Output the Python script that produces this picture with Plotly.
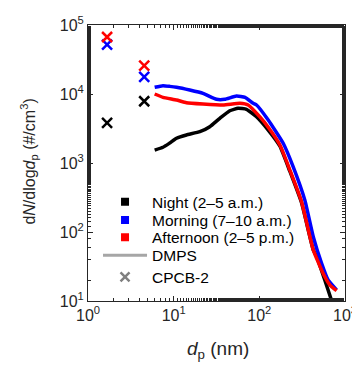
import plotly.graph_objects as go

# DMPS size distributions (dp in nm, dN/dlogdp in #/cm3)
night_dp = [6.0, 7.5, 9.0, 10.8, 14.1, 20.2, 26.4, 34.6, 45.2, 56.5, 70.8, 92.7, 127, 174, 227, 311, 426, 470, 582, 700]
night_n = [1540, 1690, 1950, 2280, 2550, 2840, 3360, 4450, 5730, 6210, 6000, 4690, 3000, 1750, 760, 265, 55, 43, 20, 10]

morning_dp = [6.0, 7.5, 9.0, 10.8, 15.4, 22.0, 31.6, 39.5, 54.0, 68.1, 84.7, 92.7, 127, 190, 248, 340, 426, 533, 637, 798]
morning_n = [12500, 13200, 12900, 12500, 11400, 10200, 8380, 8380, 9360, 8950, 7330, 6930, 4200, 1930, 884, 288, 85.5, 35.2, 20, 14.5]

afternoon_dp = [6.0, 7.5, 10.8, 14.1, 22.0, 37.8, 59.3, 74, 101, 127, 174, 227, 311, 426, 556, 667, 798]
afternoon_n = [10000, 8950, 8190, 7480, 7160, 6930, 7330, 6930, 4690, 3300, 1820, 794, 275, 55, 25, 17, 14.1]

# CPCB-2 points
cpc_dp = [1.67, 4.53]
cpc_night = [3800, 7850]
cpc_morning = [52000, 17700]
cpc_afternoon = [67000, 25700]

series_names = ["Night (2–5 a.m.)", "Morning (7–10 a.m.)", "Afternoon (2–5 p.m.)"]
series_colors = ["#000000", "#0000FF", "#FF0000"]

x_tickvals = [1, 10, 100, 1000]
x_ticktext = ["10<sup>0</sup>", "10<sup>1</sup>", "10<sup>2</sup>", "10<sup>3</sup>"]
y_tickvals = [10, 100, 1000, 10000, 100000]
y_ticktext = ["10<sup>1</sup>", "10<sup>2</sup>", "10<sup>3</sup>", "10<sup>4</sup>", "10<sup>5</sup>"]

x_title = "<i>d</i><sub>p</sub> (nm)"
y_title = "d<i>N</i>/dlog<i>d</i><sub>p</sub> (#/cm<sup>3</sup>)"

FONT = "Arial, Liberation Sans, sans-serif"
AX = "#262626"

fig = go.Figure()

dmps = [(night_dp, night_n), (morning_dp, morning_n), (afternoon_dp, afternoon_n)]
for (dp, n), c in zip(dmps, series_colors):
    fig.add_trace(go.Scatter(x=dp, y=n, mode="lines", line=dict(color=c, width=3.5, shape="spline", smoothing=0.4),
                             showlegend=False, hoverinfo="skip"))

for vals, c in zip([cpc_night, cpc_morning, cpc_afternoon], series_colors):
    fig.add_trace(go.Scatter(x=cpc_dp, y=vals, mode="markers",
                             marker=dict(symbol="x-thin", size=10, line=dict(color=c, width=2.5)),
                             showlegend=False, hoverinfo="skip"))

# legend entries (one legend box per row so that the row spacing matches)
legend_ids = ["legend", "legend2", "legend3", "legend4", "legend5"]
for name, c, lid in zip(series_names, series_colors, legend_ids[:3]):
    fig.add_trace(go.Scatter(x=[None], y=[None], mode="markers", name=name, legend=lid,
                             marker=dict(symbol="square", size=8, color=c)))
fig.add_trace(go.Scatter(x=[None], y=[None], mode="lines", name="DMPS", legend=legend_ids[3],
                         line=dict(color="#A6A6A6", width=3)))
fig.add_trace(go.Scatter(x=[None], y=[None], mode="markers", name="CPCB-2", legend=legend_ids[4],
                         marker=dict(symbol="x-thin", size=9, line=dict(color="#808080", width=2.5))))

axis_common = dict(type="log", showline=True, linecolor=AX, linewidth=1, mirror="allticks",
                   ticks="inside", ticklen=5, tickcolor=AX, showgrid=False, zeroline=False,
                   automargin=False,
                   tickfont=dict(family=FONT, size=16, color=AX),
                   minor=dict(ticks="inside", ticklen=3, tickcolor=AX, showgrid=False))

fig.update_xaxes(**axis_common, range=[0, 3], tickmode="array", tickvals=x_tickvals, ticktext=x_ticktext)
fig.update_yaxes(**axis_common, range=[1, 5], tickmode="array", tickvals=y_tickvals, ticktext=y_ticktext)

# axis titles
fig.add_annotation(text=x_title, xref="paper", yref="paper", x=0.506, y=-0.178,
                   xanchor="center", yanchor="middle", showarrow=False,
                   font=dict(family=FONT, size=19, color=AX))
fig.add_annotation(text=y_title, xref="paper", yref="paper", x=-0.2296, y=0.505, textangle=-90,
                   xanchor="center", yanchor="middle", showarrow=False,
                   font=dict(family=FONT, size=16, color=AX))

legend_style = dict(x=0.039, xanchor="left", yanchor="middle", bgcolor="rgba(0,0,0,0)",
                    font=dict(family=FONT, size=15.5, color="#000000"), itemwidth=44)
legend_y = [0.358, 0.292, 0.2297, 0.1641, 0.0855]

fig.update_layout(
    width=360, height=366,
    margin=dict(l=80, r=23, t=17, b=73, autoexpand=False),
    paper_bgcolor="white", plot_bgcolor="white",
    showlegend=True,
    **{lid: dict(legend_style, y=yv) for lid, yv in zip(legend_ids, legend_y)},
)

fig.write_html("out.html")
